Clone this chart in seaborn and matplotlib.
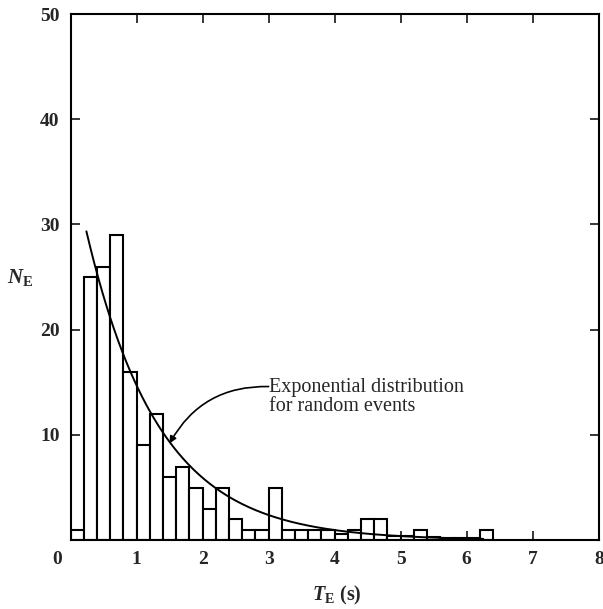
import numpy as np
import pandas as pd
import matplotlib
matplotlib.use('Agg')
import matplotlib.pyplot as plt
import matplotlib.transforms as mtransforms
import seaborn as sns

# --- dados ---
bin_left = [0.0, 0.2, 0.4, 0.6, 0.8, 1.0, 1.2, 1.4, 1.6, 1.8,
            2.0, 2.2, 2.4, 2.6, 2.8, 3.0, 3.2, 3.4, 3.6, 3.8,
            4.0, 4.2, 4.4, 4.6, 4.8, 5.0, 5.2, 5.4, 5.6, 5.8,
            6.0, 6.2]
counts = [1, 25, 26, 29, 16, 9, 12, 6, 7, 5,
          3, 5, 2, 1, 1, 5, 1, 1, 1, 1,
          0.6, 1, 2, 2, 0.4, 0.4, 1, 0.3, 0.2, 0.2,
          0.2, 1]
bin_width = 0.2

# curva exponencial (eventos aleatórios)
exp_amp = 36.5
exp_tau = 1.1
curve_start, curve_end = 0.24, 6.25

x_ticks = [0, 1, 2, 3, 4, 5, 6, 7, 8]
y_ticks = [10, 20, 30, 40, 50]

sns.set_style('ticks')
plt.rcParams['font.family'] = ['Liberation Serif', 'DejaVu Serif']
plt.rcParams['mathtext.fontset'] = 'custom'
plt.rcParams['mathtext.rm'] = 'Liberation Serif:bold'
plt.rcParams['mathtext.bf'] = 'Liberation Serif:bold'
plt.rcParams['mathtext.it'] = 'Liberation Serif:italic:bold'
plt.rcParams['mathtext.bfit'] = 'Liberation Serif:italic:bold'

fig = plt.figure(figsize=(6.03, 6.09), dpi=100)
ax = fig.add_axes([0.117, 0.113, 0.876, 0.864])

df_hist = pd.DataFrame({'centro': np.array(bin_left) + bin_width / 2,
                        'contagem': counts})
sns.histplot(data=df_hist, x='centro', weights='contagem',
             binwidth=bin_width, binrange=(bin_left[0], bin_left[-1] + bin_width),
             ax=ax, color='white', edgecolor='black', linewidth=1.5, alpha=1)

t = np.linspace(curve_start, curve_end, 300)
sns.lineplot(x=t, y=exp_amp * np.exp(-t / exp_tau), ax=ax,
             color='black', linewidth=1.4)

# anotação com seta curva
ax.text(3.0, 13.6, 'Exponential distribution\nfor random events',
        fontsize=14.5, ha='left', va='center', linespacing=1.0,
        fontweight='medium')
ax.annotate('', xy=(1.50, 9.2), xytext=(3.0, 14.6),
            arrowprops=dict(arrowstyle='-|>', color='black', lw=1.2,
                            connectionstyle='arc3,rad=0.3',
                            mutation_scale=10, shrinkA=0, shrinkB=0))

ax.set_xlim(0, 8)
ax.set_ylim(0, 50)
ax.set_xticks(x_ticks)
ax.set_xticklabels([str(v) for v in x_ticks])
ax.set_yticks(y_ticks)
ax.set_yticklabels([str(v) for v in y_ticks])
ax.tick_params(direction='in', length=6.5, width=1.3, labelsize=14, pad=8,
               top=True, right=True)
for lbl in ax.get_xticklabels() + ax.get_yticklabels():
    lbl.set_fontweight('bold')

# o "0" fica no canto, um pouco à esquerda
lbl0 = ax.get_xticklabels()[0]
lbl0.set_transform(lbl0.get_transform() +
                   mtransforms.ScaledTranslation(-0.13, 0, fig.dpi_scale_trans))

for s in ax.spines.values():
    s.set_linewidth(1.5)
    s.set_color('black')

ax.set_ylabel(r'$\mathbfit{N}_{\mathbf{E}}$', fontsize=15, rotation=0,
              va='center', ha='center')
ax.yaxis.set_label_coords(-0.095, 0.5)
ax.set_xlabel(r'$\mathbfit{T}_{\mathbf{E}}$ (s)', fontsize=14.5, fontweight='bold',
              va='center')
ax.xaxis.set_label_coords(0.505, -0.105)

fig.savefig('out.png', dpi=100)
